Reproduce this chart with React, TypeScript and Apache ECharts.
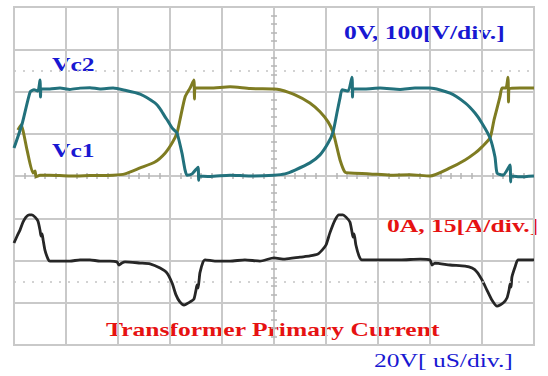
import React, { useEffect, useRef } from "react";
import * as echarts from "echarts";

// Time axis in µs (20 µs/div), centred on the screen
const vc2Time = [-100, -96.9, -93.8, -92.3, -90.8, -90, -89.8, -89.6, -86.2, -82.3, -78.5, -74.6, -70.8, -66.9, -61.9, -57.3, -51.5, -45.8, -43.8, -41.9, -40.8, -39.2, -38.1, -37.3, -35.4, -34.2, -33.5, -31.5, -29.2, -29.0, -28.8, -24.6, -16.9, -9.2, 0, 4.2, 8.1, 13.8, 17.7, 20.8, 22.7, 24.2, 25.4, 26.2, 28.5, 30, 30.2, 30.4, 35, 40.8, 48.5, 54.2, 60, 67.7, 73.5, 77.3, 80, 83.1, 85, 85.8, 88.1, 90.8, 91.0, 91.2, 94.6, 100];
// Vc2 in volts (100 V/div)
const vc2Volts = [66, 123, 199, 204, 201, 227, 187, 206, 206, 208, 205, 208, 209, 206, 208, 203, 194, 173, 159, 140, 130, 114, 107, 102, 54, 14, 2, 5, 21, -10, 0, -1, 2, 0, 2, 5, 14, 31, 50, 78, 104, 149, 185, 204, 201, 234, 187, 206, 206, 208, 205, 208, 208, 196, 173, 149, 125, 90, 45, 7, 2, 26, -14, 0, -2, 0];

const vc1Time = [-98.5, -97.3, -95.0, -92.7, -91.9, -91.5, -90.0, -86.2, -78.5, -70.8, -61.9, -57.3, -51.5, -45.8, -41.9, -39.2, -37.3, -36.2, -34.2, -32.3, -30.8, -30.6, -30.4, -24.6, -16.9, -9.2, 0, 2.3, 8.1, 13.8, 17.7, 20.8, 22.7, 23.8, 25.4, 27.3, 29.2, 36.9, 44.6, 52.3, 60.0, 67.7, 73.5, 77.3, 80.0, 83.1, 84.6, 86.9, 87.7, 89.2, 90.0, 90.2, 90.4, 94.6, 100];
const vc1Volts = [109, 121, 62, 7, 12, -2, 2, 2, 0, 1, 2, 5, 19, 33, 54, 78, 102, 132, 187, 208, 227, 182, 208, 208, 211, 207, 206, 204, 192, 173, 152, 128, 104, 78, 38, 9, 7, 5, 2, 3, 0, 19, 38, 54, 69, 90, 132, 187, 208, 208, 234, 175, 206, 208, 208];

// Transformer primary current in amps (15 A/div, 0 A two divisions below centre)
const iTime = [-100, -98.8, -97.7, -96.5, -95.4, -94.2, -93.1, -91.9, -90.8, -90.0, -89.6, -89.2, -88.8, -88.1, -86.9, -86.2, -78.5, -74.6, -70.8, -66.9, -63.1, -60.4, -59.6, -58.5, -57.3, -51.5, -47.7, -43.8, -41.2, -39.2, -37.7, -36.2, -34.6, -32.3, -30.8, -30.0, -29.6, -29.2, -28.8, -28.5, -27.3, -26.5, -22.7, -16.9, -11.2, -5.4, 0, 4.2, 10.0, 13.8, 16.9, 18.5, 20.0, 21.5, 23.5, 25.0, 26.5, 27.7, 29.2, 30.0, 30.4, 30.8, 31.5, 32.7, 33.8, 40.8, 48.5, 56.2, 60.0, 60.8, 61.9, 67.7, 73.5, 76.2, 78.1, 80.0, 81.9, 83.8, 85.8, 88.1, 89.6, 90.4, 90.8, 91.2, 91.5, 92.7, 93.8, 96.5, 100];
const iAmps = [6.2, 8.7, 10.8, 13.7, 15.4, 16.2, 16.2, 15.4, 14.0, 10.8, 8.7, 9.4, 7.3, 3.7, 0.5, -0.2, -0.2, 0.2, 0.2, -0.2, -0.2, -0.5, -1.6, -0.9, -0.5, -0.9, -1.2, -2.7, -4.4, -8.0, -12.2, -14.7, -15.8, -14.7, -13.7, -10.5, -8.7, -9.8, -6.9, -4.4, -0.5, 0.2, -0.2, -0.2, 0.2, -0.2, 0.9, 0.5, 1.2, 1.6, 2.3, 3.7, 5.5, 9.8, 14.4, 16.2, 16.2, 15.4, 13.7, 10.1, 8.3, 9.4, 5.5, 1.6, 0.2, 0.2, 0.2, 0.5, 0.2, -1.6, -0.9, -1.6, -2.0, -2.7, -4.1, -6.9, -10.5, -14.0, -16.2, -15.1, -13.3, -10.5, -8.3, -9.4, -5.9, -2.3, 0.2, 0.2, 0.2];

// Dotted level markers (divisions from centre)
const markerLevels = [2.5, -2.5];

const VOLTS_PER_DIV = 100;
const AMPS_PER_DIV = 15;
const CURRENT_OFFSET_DIV = -2;

const GRID_COLOR = "#c9c9c9";
const TICK_COLOR = "#b5b5b5";
const BLUE = "#1818d2";
const RED = "#e61212";
const SERIF = '"Liberation Serif", "Times New Roman", serif';

function zip(t: number[], v: number[], f: (x: number) => number) {
  return t.map((x, i) => [x, f(v[i])]);
}

function label(text: string, x: number, y: number, color: string, bold = true) {
  return {
    type: "text",
    x,
    y,
    scaleX: 1.42,
    silent: true,
    style: {
      text,
      fill: color,
      fontSize: 18,
      fontWeight: bold ? "bold" : "normal",
      fontFamily: SERIF,
      align: "left",
      verticalAlign: "middle",
    },
  };
}

export default function App() {
  const ref = useRef<HTMLDivElement>(null);

  useEffect(() => {
    document.body.style.margin = "0";
    if (!ref.current) return;
    const chart = echarts.init(ref.current, undefined, { renderer: "svg" });

    const baseX = {
      type: "value",
      min: -100,
      max: 100,
      interval: 20,
      position: "bottom",
      axisLabel: { show: false },
      axisLine: { show: false, onZero: true },
    };
    const baseY = {
      type: "value",
      min: -4,
      max: 4,
      interval: 1,
      position: "left",
      axisLabel: { show: false },
      axisLine: { show: false, onZero: true },
    };
    const minor = { show: true, splitNumber: 5, length: 3, lineStyle: { color: TICK_COLOR, width: 1.5 } };

    chart.setOption({
      animation: false,
      backgroundColor: "#ffffff",
      grid: {
        left: 14,
        right: 14,
        top: 7,
        bottom: 31,
        show: true,
        borderColor: GRID_COLOR,
        borderWidth: 2,
        backgroundColor: "#ffffff",
      },
      xAxis: [
        {
          ...baseX,
          axisTick: { show: false, inside: false },
          minorTick: minor,
          splitLine: { show: true, lineStyle: { color: GRID_COLOR, width: 2 } },
        },
        {
          ...baseX,
          axisTick: { show: false, inside: true },
          minorTick: minor,
          splitLine: { show: false },
        },
      ],
      yAxis: [
        {
          ...baseY,
          axisTick: { show: false, inside: false },
          minorTick: minor,
          splitLine: { show: true, lineStyle: { color: GRID_COLOR, width: 2 } },
        },
        {
          ...baseY,
          axisTick: { show: false, inside: true },
          minorTick: minor,
          splitLine: { show: false },
        },
      ],
      series: [
        {
          name: "Vc1",
          type: "line",
          showSymbol: false,
          silent: true,
          smooth: 0.2,
          data: zip(vc1Time, vc1Volts, (v) => v / VOLTS_PER_DIV),
          lineStyle: { color: "#7f7c22", width: 3 },
          z: 3,
        },
        {
          name: "Vc2",
          type: "line",
          showSymbol: false,
          silent: true,
          smooth: 0.2,
          data: zip(vc2Time, vc2Volts, (v) => v / VOLTS_PER_DIV),
          lineStyle: { color: "#22717c", width: 3 },
          z: 4,
        },
        {
          name: "Ip",
          type: "line",
          showSymbol: false,
          silent: true,
          smooth: 0.2,
          data: zip(iTime, iAmps, (a) => a / AMPS_PER_DIV + CURRENT_OFFSET_DIV),
          lineStyle: { color: "#262626", width: 2.8 },
          z: 4,
          markLine: {
            silent: true,
            symbol: "none",
            label: { show: false },
            lineStyle: { color: "#c4c4c4", type: [2, 7], width: 1.5 },
            data: markerLevels.map((y) => ({ yAxis: y })),
          },
        },
      ],
      graphic: [
        label("Vc2", 52, 65, BLUE),
        label("Vc1", 52, 151, BLUE),
        label("0V, 100[V/div.]", 344, 33, BLUE),
        label("0A, 15[A/div.]", 387, 226, RED),
        label("Transformer Primary Current", 106, 330, RED),
        label("20V[ uS/div.]", 374, 361, BLUE, false),
      ],
    });

    return () => chart.dispose();
  }, []);

  return <div ref={ref} style={{ width: 548, height: 376 }} />;
}
